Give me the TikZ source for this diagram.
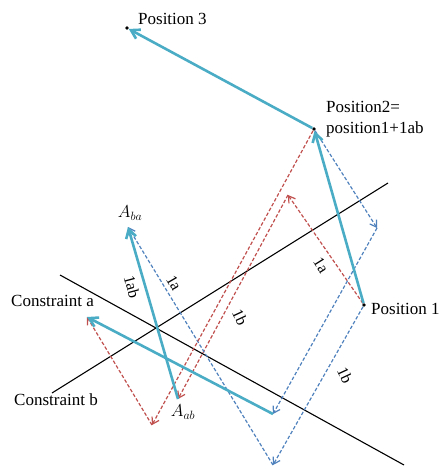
\documentclass[tikz,border=0pt]{standalone}
\usepackage{fontspec}
\setmainfont{Liberation Serif}
\usepackage{tikz}
\usetikzlibrary{arrows.meta,positioning}
\definecolor{cstep}{HTML}{4BACC6}
\definecolor{cpa}{HTML}{C0504D}
\definecolor{cpb}{HTML}{4F81BD}
\tikzset{
  dot/.style={circle, fill=black, inner sep=0pt, minimum size=3.6pt},
  cline/.style={draw=black, line width=1.1pt},
  cvec/.style={draw=cstep, line width=2.6pt, -{Straight Barb[length=3mm,width=3.6mm]}},
  avec/.style={draw=cpa, line width=1.2pt, dash pattern=on 3.5pt off 2pt, -{Straight Barb[length=2.2mm,width=2.8mm]}},
  bvec/.style={draw=cpb, line width=1.2pt, dash pattern=on 3.5pt off 2pt, -{Straight Barb[length=2.2mm,width=2.8mm]}},
  lbl/.style={font=\fontsize{17}{21}\selectfont, inner sep=1pt, align=left},
  mlbl/.style={font=\fontsize{18}{21}\selectfont, inner sep=1pt},
  vlbl/.style={font=\fontsize{16}{18}\selectfont, inner sep=0pt},
}
\begin{document}
\begin{tikzpicture}[x=1pt,y=-1pt]
\useasboundingbox (0,0) rectangle (442,470);
% positions
\node[dot] (p1) at (364,305) {};
\node[dot] (p2) at (314,129) {};
\node[dot] (p3) at (127,28) {};
\coordinate (aba) at (128,227);
\coordinate (aab) at (178,399);
\coordinate (ra) at (288,195);
\coordinate (rb) at (152,425);
\coordinate (rq) at (87,317);
\coordinate (bb) at (273,465);
\coordinate (bc) at (377,228);
\coordinate (bq) at (273,414);
% constraints
\coordinate (cb1) at (52,393);
\coordinate (cb2) at (388,183);
\coordinate (ca1) at (60,275);
\coordinate (ca2) at (404,465);
\draw[cline] (cb1) -- (cb2);
\draw[cline] (ca1) -- (ca2);
% projections from position 1
\draw[avec] (p1) -- (ra);
\draw[avec] (ra) -- (aab);
\draw[bvec] (p1) -- (bb);
\draw[bvec] (bb) -- (aba);
% projections from position 2
\draw[avec] (p2) -- (rb);
\draw[avec] (rb) -- (rq);
\draw[bvec] (p2) -- (bc);
\draw[bvec] (bc) -- (bq);
% steps
\draw[cvec] (aab) -- (aba);
\draw[cvec] (bq) -- (rq);
\draw[cvec] (p1) -- (p2);
\draw[cvec] (p2) -- (p3);
% labels
\node[lbl, anchor=west] (l3) at (137,19) {Position 3};
\node[lbl, anchor=west] (l2) at (325,119) {Position2=\\position1+1ab};
\node[lbl, anchor=west] (l1) at (370,309) {Position 1};
\node[lbl, anchor=west] (lca) at (10,301) {Constraint a};
\node[lbl, anchor=west] (lcb) at (13,400) {Constraint b};
\node[mlbl] (nab) at (183,412) {$A_{ab}$};
\node[mlbl] (nba) at (130,213) {$A_{ba}$};
\node[vlbl, rotate=-75] (t1ab) at (132,287) {1ab};
\node[vlbl, rotate=-60] (t1a) at (174,283) {1a};
\node[vlbl, rotate=-65] (t1b) at (240,317) {1b};
\node[vlbl, rotate=-58] (t2a) at (321,265) {1a};
\node[vlbl, rotate=-65] (t2b) at (345,375) {1b};
\end{tikzpicture}
\end{document}
